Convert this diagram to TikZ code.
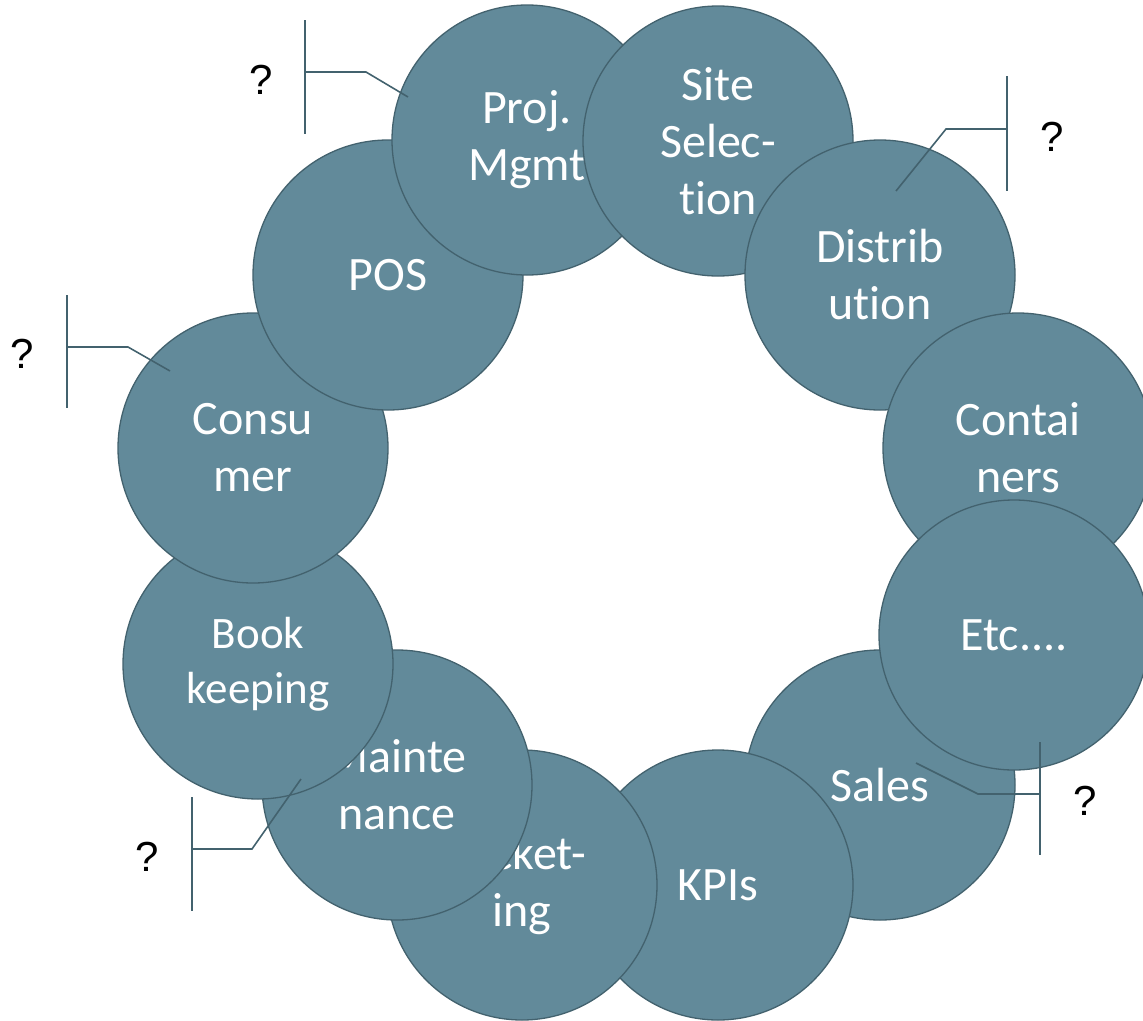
\documentclass[tikz,border=0pt]{standalone}
\usepackage{fontspec}
\setmainfont{Carlito}[Ligatures=NoCommon]
\newfontfamily\qfont{Liberation Sans}
\definecolor{ringfill}{HTML}{628A9A}
\definecolor{ringline}{HTML}{43626E}
\begin{document}
\begin{tikzpicture}[x=1pt,y=-1pt,
  bubble/.style={circle, minimum size=270pt, inner sep=0pt, fill=ringfill, draw=ringline, line width=1.3pt, text=white, font=\fontsize{48}{57}\selectfont, align=center},
  smalltext/.style={font=\fontsize{45}{55}\selectfont},
  callout/.style={draw=ringline, line width=1.6pt},
  qmark/.style={font=\qfont\fontsize{42}{50}\selectfont, text=black, inner sep=0pt}]
\useasboundingbox (0,0) rectangle (1143,1020);
% circles, drawn from bottom of stack to top
\node[bubble] (sales) at (880,785) {Sales};
\node[bubble] (kpis) at (718,885) {KPIs};
\node[bubble] (mkt) at (522,885) {Ticket-\\ing};
\node[bubble] (maint) at (397,785) {Mainte\\nance};
\node[bubble, smalltext] (book) at (258,664) {Book\\keeping};
\node[bubble] (cons) at (253,448) {Consu\\mer};
\node[bubble] (pos) at (388,275) {POS};
\node[bubble] (proj) at (527,140) {Proj.\\Mgmt};
\node[bubble] (site) at (718,141) {Site\\Selec-\\tion};
\node[bubble] (dist) at (880,275) {Distrib\\ution};
\node[bubble] (cont) at (1018,448) {Contai\\ners};
\node[bubble] (etc) at (1014,635) {Etc....};
% callout 1 (Proj. Mgmt)
\coordinate (a1t) at (305,20); \coordinate (a1b) at (305,134);
\coordinate (a1m) at (305,72); \coordinate (a1k) at (366,72); \coordinate (a1e) at (408,97);
\draw[callout] (a1t) -- (a1b);
\draw[callout] (a1m) -- (a1k) -- (a1e);
\node[qmark] (q1) at (261,80) {?};
% callout 2 (Distribution)
\coordinate (a2t) at (1007,76); \coordinate (a2b) at (1007,191);
\coordinate (a2m) at (1007,129); \coordinate (a2k) at (946,129); \coordinate (a2e) at (896,191);
\draw[callout] (a2t) -- (a2b);
\draw[callout] (a2m) -- (a2k) -- (a2e);
\node[qmark] (q2) at (1052,137) {?};
% callout 3 (Consumer)
\coordinate (a3t) at (67,295); \coordinate (a3b) at (67,408);
\coordinate (a3m) at (67,347); \coordinate (a3k) at (128,347); \coordinate (a3e) at (170,371);
\draw[callout] (a3t) -- (a3b);
\draw[callout] (a3m) -- (a3k) -- (a3e);
\node[qmark] (q3) at (22,354) {?};
% callout 4 (Sales)
\coordinate (a4t) at (1040,742); \coordinate (a4b) at (1040,855);
\coordinate (a4m) at (1040,794); \coordinate (a4k) at (978,794); \coordinate (a4e) at (916,763);
\draw[callout] (a4t) -- (a4b);
\draw[callout] (a4m) -- (a4k) -- (a4e);
\node[qmark] (q4) at (1085,801) {?};
% callout 5 (Bookkeeping / Maintenance)
\coordinate (a5t) at (192,797); \coordinate (a5b) at (192,911);
\coordinate (a5m) at (192,849); \coordinate (a5k) at (252,849); \coordinate (a5e) at (301,779);
\draw[callout] (a5t) -- (a5b);
\draw[callout] (a5m) -- (a5k) -- (a5e);
\node[qmark] (q5) at (147,857) {?};
\end{tikzpicture}
\end{document}
